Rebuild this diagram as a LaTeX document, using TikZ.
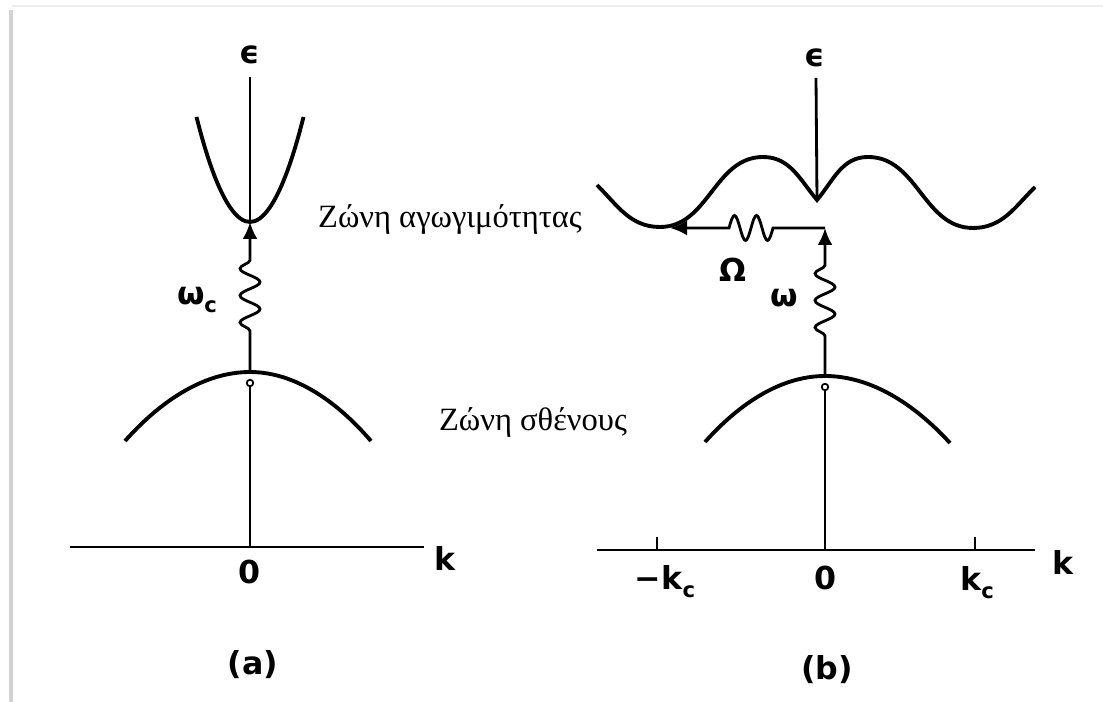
\documentclass[tikz,border=0pt]{standalone}
\usepackage{fontspec}
\setmainfont{Liberation Serif}
\newfontfamily\lblfont{DejaVu Sans}
\usetikzlibrary{arrows.meta,decorations.pathmorphing}

\tikzset{
  band/.style={line width=2.2pt},
  axis/.style={line width=1.6pt},
  lbl/.style={font=\lblfont\bfseries\fontsize{18}{20}\selectfont},
  zone/.style={font=\fontsize{18.5}{20}\selectfont},
  dotc/.style={circle,draw,fill=white,inner sep=0pt,minimum size=1.3mm,line width=1pt},
  wiggle/.style={decorate,decoration={snake,amplitude=2mm,segment length=5.4mm}},
  tip/.style={-{Latex[length=3.4mm,width=3mm]}}
}
\newcommand{\sub}[1]{\raisebox{-0.45ex}{\fontsize{12}{12}\selectfont #1}}

\begin{document}
\begin{tikzpicture}
  \useasboundingbox (0,0) rectangle (22.06,14.04);
  % page shadow
  \draw[gray!35,line width=2pt] (0.22,0) -- (0.22,13.84);
  \draw[gray!15,line width=1.5pt] (0.24,13.92) -- (22.06,13.92);

  % (a) direct gap
  \node[lbl] (epsA) at (5.00,12.94) {ϵ};
  \coordinate (topA) at (5.00,12.50);
  \coordinate (ctopA) at (5.00,9.60);
  \coordinate (vtopA) at (5.00,6.60);
  \coordinate (zeroA) at (5.00,3.10);
  \draw[axis] (topA) -- (ctopA);
  \draw[band] (3.93,11.70) parabola bend (ctopA) (6.07,11.70);
  \draw[band] (2.50,5.22) parabola bend (vtopA) (7.42,5.22);
  \draw[axis,tip,wiggle,decoration={pre length=8.2mm,post length=7.2mm}] (vtopA) -- (ctopA);
  \node[dotc] (dotA) at (5.00,6.38) {};
  \draw[axis] (dotA) -- (zeroA);
  \draw[axis] (1.40,3.10) -- (8.48,3.10);
  \node[lbl] (omA) at (3.94,8.04) {ω\sub{c}};
  \node[lbl] (kA) at (8.90,2.88) {k};
  \node[lbl] (oA) at (5.00,2.60) {0};
  \node[lbl] (capA) at (5.06,0.74) {(a)};

  % band labels
  \node[zone] (condTxt) at (9.00,9.64) {Ζώνη αγωγιμότητας};
  \node[zone] (valTxt) at (10.66,5.58) {Ζώνη σθένους};

  % (b) indirect gap
  \node[lbl] (epsB) at (16.30,12.88) {ϵ};
  \coordinate (topB) at (16.32,12.48);
  \coordinate (cmidB) at (16.34,10.04);
  \coordinate (cminB) at (13.40,9.48);
  \coordinate (cornB) at (16.50,9.48);
  \coordinate (vtopB) at (16.50,6.52);
  \coordinate (zeroB) at (16.50,3.04);
  \draw[axis] (topB) -- (cmidB);
  \draw[band] (11.94,10.34) to[out=-45,in=180] (13.20,9.50)
    to[out=0,in=180] (15.26,10.90) to[out=0,in=130] (cmidB)
    to[out=50,in=180] (17.36,10.90) to[out=0,in=180] (19.46,9.48)
    to[out=0,in=225] (20.70,10.30);
  \draw[band] (14.10,5.20) parabola bend (vtopB) (19.00,5.18);
  \draw[axis,tip,wiggle,decoration={pre length=8mm,post length=7.4mm}] (vtopB) -- (cornB);
  \draw[axis,tip] (cornB) -- ++(-1.04,0)
    sin ++(-0.11,-0.25) cos ++(-0.11,0.25) sin ++(-0.11,0.25) cos ++(-0.11,-0.25)
    sin ++(-0.11,-0.25) cos ++(-0.11,0.25) sin ++(-0.11,0.25) cos ++(-0.11,-0.25)
    -- (cminB);
  \node[dotc] (dotB) at (16.50,6.30) {};
  \draw[axis] (dotB) -- (zeroB);
  \draw[axis] (11.94,3.04) -- (20.70,3.04);
  \draw[axis] (13.14,3.30) -- (13.14,3.04);
  \draw[axis] (19.50,3.30) -- (19.50,3.04);
  \node[lbl] (omB) at (15.68,8.08) {ω};
  \node[lbl] (OmB) at (14.66,8.64) {Ω};
  \node[lbl] (kmB) at (13.30,2.40) {−k\sub{c}};
  \node[lbl] (oB) at (16.50,2.48) {0};
  \node[lbl] (kcB) at (19.54,2.38) {k\sub{c}};
  \node[lbl] (kB) at (21.26,2.80) {k};
  \node[lbl] (capB) at (16.54,0.64) {(b)};
\end{tikzpicture}
\end{document}
